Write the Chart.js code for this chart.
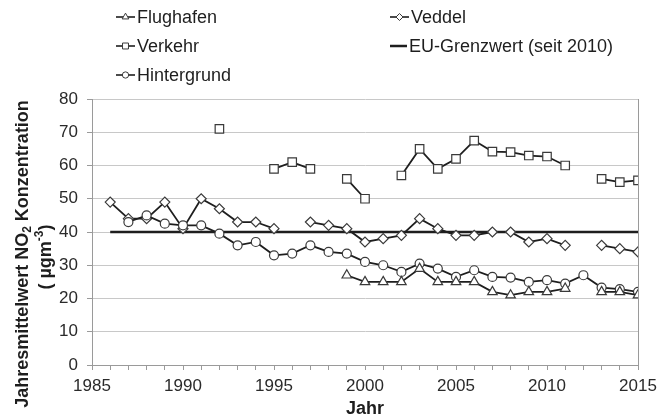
<!DOCTYPE html>
<html>
<head>
<meta charset="utf-8">
<script src="https://cdn.jsdelivr.net/npm/chart.js@4/dist/chart.umd.min.js"></script>
<style>
    html, body { margin: 0; padding: 0; background: #ffffff; }
    #wrap { width: 669px; height: 420px; position: relative; }
</style>
</head>
<body>
<div id="wrap"><canvas id="chart" width="669" height="420"></canvas></div>
<script>
const years = [1986, 1987, 1988, 1989, 1990, 1991, 1992, 1993, 1994, 1995,
    1996, 1997, 1998, 1999, 2000, 2001, 2002, 2003, 2004, 2005,
    2006, 2007, 2008, 2009, 2010, 2011, 2012, 2013, 2014, 2015];

const flughafen = [null, null, null, null, null, null, null, null, null, null,
    null, null, null, 27, 25, 25, 25, 29, 25, 25,
    25, 22, 21, 22, 22, 23, null, 22, 22, 21];

const verkehr = [null, null, null, null, null, null, 71, null, null, 59,
    61, 59, null, 56, 50, null, 57, 65, 59, 62,
    67.5, 64.2, 64, 63, 62.7, 60, null, 56, 55, 55.5];

const hintergrund = [null, 43, 45, 42.5, 42, 42, 39.5, 36, 37, 33,
    33.5, 36, 34, 33.5, 31, 30, 28, 30.5, 29, 26.5,
    28.5, 26.5, 26.3, 25, 25.5, 24.5, 27, 23.3, 22.8, 22];

const veddel = [49, 44, 44, 49, 41, 50, 47, 43, 43, 41,
    null, 43, 42, 41, 37, 38, 39, 44, 41, 39,
    39, 40, 40, 37, 38, 36, null, 36, 35, 34];

const grenzwert = [40, 40, 40, 40, 40, 40, 40, 40, 40, 40,
    40, 40, 40, 40, 40, 40, 40, 40, 40, 40,
    40, 40, 40, 40, 40, 40, 40, 40, 40, 40];

const yTicks = [0, 10, 20, 30, 40, 50, 60, 70, 80];

const FONT = '"Liberation Sans", Arial, sans-serif';
const LINE = '#1e1e1e';
const MARK = '#3a3a3a';
const GRID = '#c8c8c8';
const AXIS = '#9a9a9a';

// marker radius per style, so the shapes come out about the same size
const markerSize = { triangle: 5.5, rect: 6, circle: 4.5, rectRot: 5 };

Chart.defaults.font.family = FONT;
Chart.defaults.color = '#2a2a2a';

function toPoints(values) {
    return years.map((year, i) => ({ x: year, y: values[i] }));
}

function series(label, values, pointStyle) {
    return {
        label,
        data: toPoints(values),
        borderColor: LINE,
        borderWidth: 1.8,
        pointStyle,
        pointRadius: markerSize[pointStyle],
        pointBorderColor: MARK,
        pointBorderWidth: 1.2,
        pointBackgroundColor: '#ffffff',
        spanGaps: false,
        tension: 0
    };
}

// legend is laid out in two columns, so it is drawn by hand
const legendItems = [
    { index: 0, x: 116, y: 17 },
    { index: 1, x: 116, y: 46 },
    { index: 2, x: 116, y: 75 },
    { index: 3, x: 390, y: 17 },
    { index: 4, x: 390, y: 46 }
];

const legendPlugin = {
    id: 'twoColLegend',
    afterDraw(chart) {
        const ctx = chart.ctx;
        ctx.save();
        for (const item of legendItems) {
            const ds = chart.data.datasets[item.index];
            const w = item.index === 4 ? 17 : 19;
            ctx.strokeStyle = LINE;
            ctx.lineWidth = item.index === 4 ? 2.5 : 1.6;
            ctx.beginPath();
            ctx.moveTo(item.x, item.y);
            ctx.lineTo(item.x + w, item.y);
            ctx.stroke();
            if (ds.pointRadius > 0) {
                ctx.fillStyle = '#ffffff';
                ctx.strokeStyle = MARK;
                ctx.lineWidth = 1;
                const r = ds.pointRadius * 0.7;
                Chart.helpers.drawPoint(ctx, { pointStyle: ds.pointStyle, radius: r, rotation: 0, borderWidth: 1 }, item.x + w / 2, item.y);
            }
            ctx.fillStyle = '#1e1e1e';
            ctx.font = '18px ' + FONT;
            ctx.textAlign = 'left';
            ctx.textBaseline = 'middle';
            ctx.fillText(ds.label, item.x + w + 2, item.y + 1);
        }
        ctx.restore();
    }
};

// rotated y title with sub- and superscript parts
function drawRich(ctx, parts, cx, cy) {
    let total = 0;
    for (const p of parts) {
        ctx.font = 'bold ' + p.size + 'px ' + FONT;
        total += ctx.measureText(p.text).width;
    }
    ctx.save();
    ctx.translate(cx, cy);
    ctx.rotate(-Math.PI / 2);
    ctx.textAlign = 'left';
    ctx.textBaseline = 'middle';
    let x = -total / 2;
    for (const p of parts) {
        ctx.font = 'bold ' + p.size + 'px ' + FONT;
        ctx.fillText(p.text, x, p.shift);
        x += ctx.measureText(p.text).width;
    }
    ctx.restore();
}

const yTitlePlugin = {
    id: 'yTitle',
    afterDraw(chart) {
        const ctx = chart.ctx;
        ctx.fillStyle = '#1e1e1e';
        drawRich(ctx, [
            { text: 'Jahresmittelwert NO', size: 18, shift: 0 },
            { text: '2', size: 12, shift: 5 },
            { text: ' Konzentration', size: 18, shift: 0 }
        ], 23, 254);
        drawRich(ctx, [
            { text: '( µgm', size: 18, shift: 0 },
            { text: '-3', size: 12, shift: -6 },
            { text: ')', size: 18, shift: 0 }
        ], 46, 257);
    }
};

const ctx = document.getElementById('chart').getContext('2d');

new Chart(ctx, {
    type: 'line',
    data: {
        datasets: [
            series('Flughafen', flughafen, 'triangle'),
            series('Verkehr', verkehr, 'rect'),
            series('Hintergrund', hintergrund, 'circle'),
            series('Veddel', veddel, 'rectRot'),
            {
                label: 'EU-Grenzwert (seit 2010)',
                data: toPoints(grenzwert),
                borderColor: LINE,
                borderWidth: 2.5,
                pointRadius: 0,
                tension: 0
            }
        ]
    },
    options: {
        responsive: false,
        animation: false,
        layout: { padding: { top: 99, right: 31, bottom: 0, left: 0 } },
        plugins: {
            legend: { display: false },
            tooltip: { enabled: false }
        },
        scales: {
            x: {
                type: 'linear',
                min: 1985,
                max: 2015,
                afterFit: (scale) => { scale.height = 55; },
                ticks: {
                    stepSize: 1,
                    autoSkip: false,
                    maxRotation: 0,
                    padding: 6,
                    font: { size: 17 },
                    callback: (v) => (v % 5 === 0 ? String(v) : '')
                },
                grid: {
                    color: (c) => (c.tick && c.tick.value === 2015 ? AXIS : 'rgba(0,0,0,0)'),
                    tickColor: AXIS,
                    tickLength: 5
                },
                border: { color: AXIS, width: 1 },
                title: {
                    display: true,
                    text: 'Jahr',
                    font: { size: 18, weight: 'bold' },
                    color: '#1e1e1e',
                    padding: { top: 0, bottom: 0 }
                }
            },
            y: {
                min: 0,
                max: 80,
                afterFit: (scale) => { scale.width = 92; },
                afterBuildTicks: (scale) => { scale.ticks = yTicks.map((v) => ({ value: v })); },
                ticks: {
                    padding: 9,
                    font: { size: 17 }
                },
                grid: {
                    color: GRID,
                    tickColor: AXIS,
                    tickLength: 5
                },
                border: { color: AXIS, width: 1 }
            }
        }
    },
    plugins: [legendPlugin, yTitlePlugin]
});
</script>
</body>
</html>
